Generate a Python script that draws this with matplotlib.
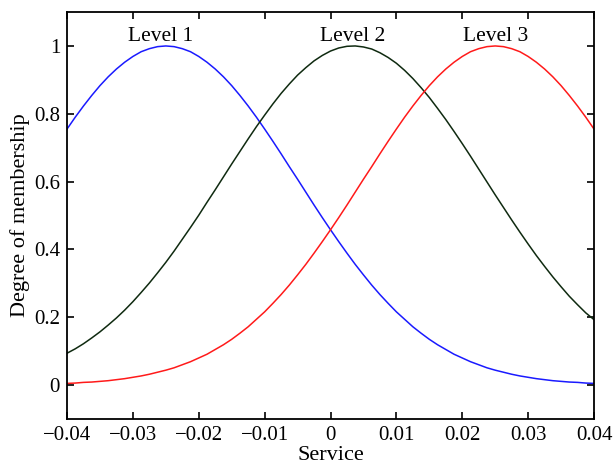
import matplotlib.pyplot as plt

# readings, step 0.00125 on the x axis
service = [-0.04, -0.03875, -0.0375, -0.03625, -0.035,
           -0.03375, -0.0325, -0.03125, -0.03, -0.02875,
           -0.0275, -0.02625, -0.025, -0.02375, -0.0225,
           -0.02125, -0.02, -0.01875, -0.0175, -0.01625,
           -0.015, -0.01375, -0.0125, -0.01125, -0.01,
           -0.00875, -0.0075, -0.00625, -0.005, -0.00375,
           -0.0025, -0.00125, 0.0, 0.00125, 0.0025,
           0.00375, 0.005, 0.00625, 0.0075, 0.00875,
           0.01, 0.01125, 0.0125, 0.01375, 0.015,
           0.01625, 0.0175, 0.01875, 0.02, 0.02125,
           0.0225, 0.02375, 0.025, 0.02625, 0.0275,
           0.02875, 0.03, 0.03125, 0.0325, 0.03375,
           0.035, 0.03625, 0.0375, 0.03875, 0.04]

level1 = [0.755, 0.790, 0.823, 0.854, 0.883,
          0.909, 0.932, 0.952, 0.969, 0.983,
          0.992, 0.998, 1.0, 0.998, 0.992,
          0.983, 0.969, 0.952, 0.932, 0.909,
          0.883, 0.854, 0.823, 0.790, 0.755,
          0.719, 0.682, 0.644, 0.607, 0.569,
          0.531, 0.494, 0.458, 0.423, 0.389,
          0.356, 0.325, 0.295, 0.267, 0.241,
          0.216, 0.194, 0.172, 0.153, 0.135,
          0.119, 0.105, 0.091, 0.080, 0.069,
          0.060, 0.051, 0.044, 0.038, 0.032,
          0.027, 0.023, 0.019, 0.016, 0.013,
          0.011, 0.009, 0.008, 0.006, 0.005]

level2 = [0.094, 0.107, 0.122, 0.139, 0.157,
          0.177, 0.198, 0.221, 0.246, 0.273,
          0.301, 0.331, 0.362, 0.395, 0.430,
          0.465, 0.501, 0.539, 0.576, 0.614,
          0.652, 0.689, 0.726, 0.762, 0.796,
          0.829, 0.860, 0.888, 0.914, 0.936,
          0.956, 0.972, 0.985, 0.994, 0.999,
          1.0, 0.997, 0.991, 0.980, 0.966,
          0.949, 0.928, 0.904, 0.877, 0.848,
          0.816, 0.783, 0.748, 0.712, 0.675,
          0.637, 0.599, 0.561, 0.524, 0.487,
          0.451, 0.416, 0.382, 0.350, 0.319,
          0.290, 0.262, 0.237, 0.213, 0.193]

level3 = [0.005, 0.006, 0.008, 0.009, 0.011,
          0.013, 0.016, 0.019, 0.023, 0.027,
          0.032, 0.038, 0.044, 0.051, 0.060,
          0.069, 0.080, 0.091, 0.105, 0.119,
          0.135, 0.153, 0.172, 0.194, 0.216,
          0.241, 0.267, 0.295, 0.325, 0.356,
          0.389, 0.423, 0.458, 0.494, 0.531,
          0.569, 0.607, 0.644, 0.682, 0.719,
          0.755, 0.790, 0.823, 0.854, 0.883,
          0.909, 0.932, 0.952, 0.969, 0.983,
          0.992, 0.998, 1.0, 0.998, 0.992,
          0.983, 0.969, 0.952, 0.932, 0.909,
          0.883, 0.854, 0.823, 0.790, 0.755]

x_ticks = [-0.04, -0.03, -0.02, -0.01, 0, 0.01, 0.02, 0.03, 0.04]
x_labels = ["\u22120.04", "\u22120.03", "\u22120.02", "\u22120.01", "0",
            "0.01", "0.02", "0.03", "0.04"]
y_ticks = [0, 0.2, 0.4, 0.6, 0.8, 1]
y_labels = ["0", "0.2", "0.4", "0.6", "0.8", "1"]

plt.rcParams["font.family"] = ["Liberation Serif", "DejaVu Serif"]

fig = plt.figure(figsize=(6.16, 4.65), dpi=100)
ax = fig.add_axes([0.1088, 0.0989, 0.8555, 0.8752])

ax.plot(service, level1, color="#1a1aff", lw=1.1)
ax.plot(service, level2, color="#0f2a10", lw=1.1)
ax.plot(service, level3, color="#ff1a1a", lw=1.1)

ax.text(-0.0258, 1.015, "Level 1", ha="center", va="baseline", fontsize=15.5)
ax.text(0.0033, 1.015, "Level 2", ha="center", va="baseline", fontsize=15.5)
ax.text(0.0251, 1.015, "Level 3", ha="center", va="baseline", fontsize=15.5)

ax.set_xlim(-0.04, 0.04)
ax.set_ylim(-0.1, 1.1)
ax.set_xticks(x_ticks)
ax.set_xticklabels(x_labels, fontsize=15)
ax.set_yticks(y_ticks)
ax.set_yticklabels(y_labels, fontsize=15)
ax.tick_params(direction="in", top=True, right=True, length=5, width=1.2, pad=5)
for s in ax.spines.values():
    s.set_linewidth(1.3)

ax.set_xlabel("Service", fontsize=16, labelpad=0.5)
ax.set_ylabel("Degree of membership", fontsize=16, labelpad=3)

fig.savefig("out.png", dpi=100)
